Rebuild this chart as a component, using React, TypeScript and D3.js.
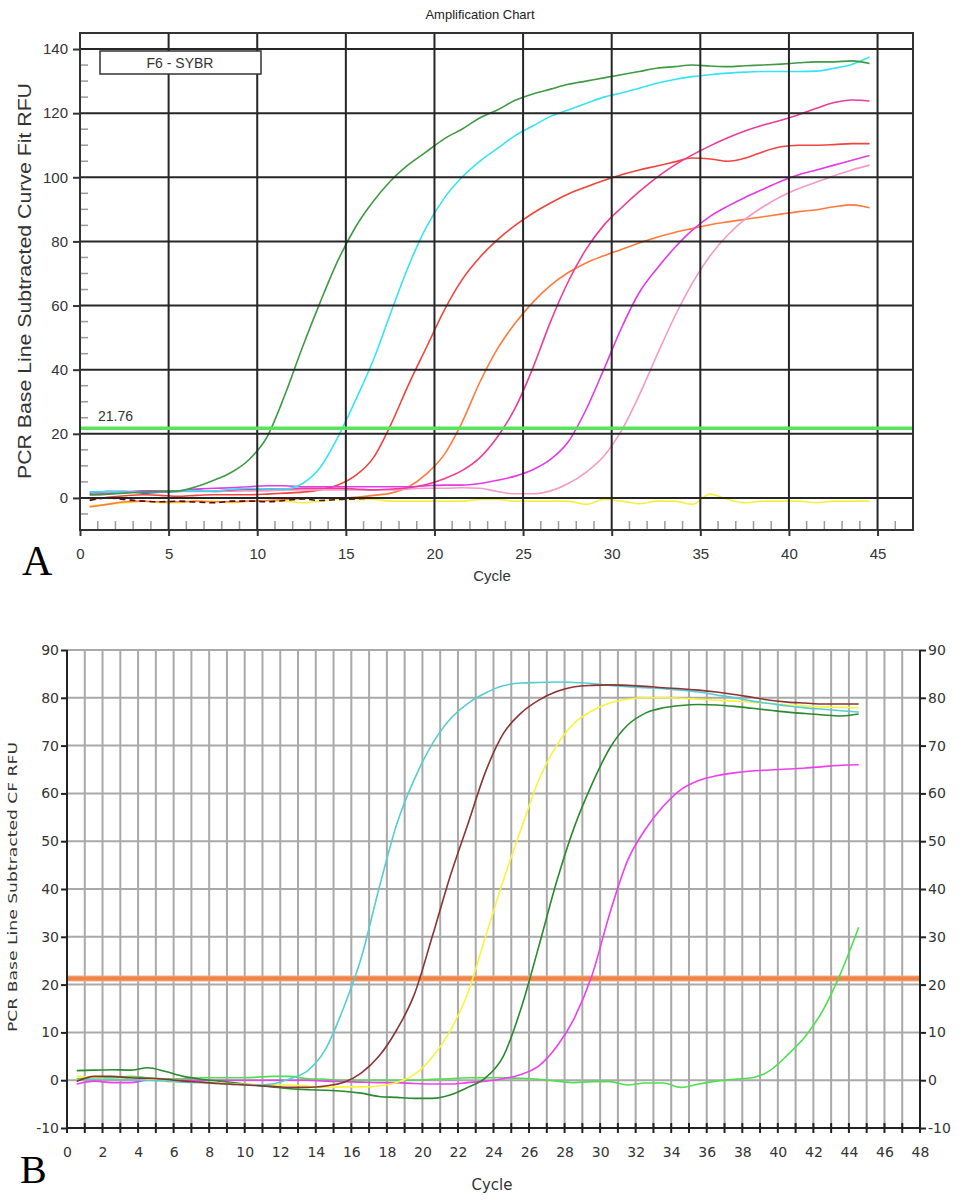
import { useEffect, useRef } from "react"
import * as d3 from "d3"

// cycle numbers (each point is drawn a little before the whole cycle, as the instrument does)
const cycles = [
  1, 2, 3, 4, 5, 6, 7, 8, 9, 10, 11, 12, 13, 14, 15, 16, 17, 18, 19, 20, 21, 22, 23, 24, 25, 26, 27, 28, 29, 30,
  31, 32, 33, 34, 35, 36, 37, 38, 39, 40, 41, 42, 43, 44, 45,
]
const cycleOffset = 0.45

// ---- Panel A: F6 - SYBR, curve fit RFU ----
const greenA = [
  1, 1.2, 1.5, 1.8, 2, 2.2, 3.5, 5.5, 8, 12, 19, 32, 47, 61, 74, 84.5, 92.5, 99, 104, 108, 112, 115, 118.5, 121,
  124, 126, 127.5, 129, 130, 131, 132, 133, 134, 134.5, 135, 134.7, 134.5, 134.8, 135, 135.3, 135.7, 136, 136,
  136.3, 135.5,
]
const cyanA = [
  1.8, 2, 1.8, 1.8, 2, 2.2, 2.2, 2.2, 2.7, 3, 2.8, 2.8, 4.5, 9.5, 19, 30.5, 43, 58, 72.5, 84.5, 93.5, 100, 105,
  109, 113, 116, 119, 121, 123, 125, 126.3, 127.8, 129.3, 130.5, 131.4, 132, 132.5, 132.8, 133, 133, 133, 133.1,
  134, 135.2, 137.5,
]
const redA = [
  -0.5, 0.2, 0.7, 1, 0.8, 0.5, 0.8, 1, 1, 1, 1.2, 1.5, 1.8, 2.5, 4, 7, 12.5, 23, 35.5, 47, 58.5, 68, 75, 80.5, 85,
  88.8, 92, 94.8, 97, 99, 100.8, 102.3, 103.5, 104.8, 106, 105.7, 105, 106, 108, 109.5, 110, 110, 110.2, 110.5,
  110.5,
]
const orangeA = [
  -2.8, -2, -1.2, -1, -1.2, -1.2, -1, -1.2, -1.2, -1, -0.8, -0.5, -0.2, 0, 0, 0.2, 0.8, 1.5, 3.5, 7.5, 13.5, 23.5,
  36, 46.5, 54.5, 61, 66.3, 70.3, 73.3, 75.5, 77.5, 79.5, 81.3, 82.8, 84, 85.2, 86.1, 86.9, 87.7, 88.5, 89.3, 89.9,
  90.8, 91.4, 90.5,
]
const deepPinkA = [
  1, 1.2, 1.8, 2, 2, 2.2, 2.2, 2.2, 2.5, 2.8, 2.8, 2.8, 3, 3, 3, 2.8, 2.5, 2.8, 3.2, 4.2, 6, 8.5, 12.5, 19, 28,
  40.5, 55, 67.5, 77.5, 85, 90.5, 95.5, 100, 103.8, 107, 109.8, 112.3, 114.5, 116.3, 117.8, 119.5, 121.5, 123.3,
  124.1, 123.8,
]
const magentaA = [
  1.8, 2, 2, 2.2, 2.2, 2.2, 2.8, 3, 3.2, 3.5, 3.8, 3.8, 3.5, 3.5, 3.5, 3.5, 3.5, 3.5, 3.5, 3.8, 4, 4, 4.5, 5.5,
  6.8, 8.8, 12, 17.5, 27.5, 40, 53, 64, 71.5, 78, 83.5, 87.8, 91, 93.8, 96.3, 98.8, 100.8, 102.3, 103.8, 105.3,
  106.8,
]
const lightPinkA = [
  1, 1.5, 1.8, 2, 2, 2, 2, 2, 2.2, 2.2, 2.2, 2.5, 2.5, 2.5, 2.5, 2.5, 2.5, 2.5, 2.8, 3, 3, 3.2, 3, 2, 1.3, 1.3,
  2.2, 4.5, 8, 13, 21, 32, 44.5, 56.5, 67, 75.5, 82, 87, 90.8, 94, 96.5, 98.5, 100.5, 102.3, 103.8,
]
const yellowA = [
  -2.5, -2, -1.5, -1, -1.5, -1.5, -1, -1, -1.5, -1, -1, -1, -1.5, -1, -0.5, -0.5, -0.5, -1, -1, -1, -1, -1, -0.5,
  -0.5, -1, -1, -1, -1, -2, -0.5, -1, -1.8, -1, -1, -2, 1.2, -0.5, -1.5, -1, -1, -1, -1.5, -1, -1, -1,
]
const blueA = [1.5, 2, 2, 1.5, 1.8, 2, 2.5, 2, 2.2, 2.5, 2.8, 2.5]
const ntcA = [-0.8, 0, -0.5, -1, -1.2, -1, -1.3, -1.5, -1, -1, -1.2, -0.8, -0.3, -0.8, -0.5, -0.3, 0]
const thresholdA = 21.76
const xTicksA = [0, 5, 10, 15, 20, 25, 30, 35, 40, 45]
const yTicksA = [0, 20, 40, 60, 80, 100, 120, 140]

// ---- Panel B: CF RFU ----
const cyanB = [
  0, 0.2, 0.2, 0.1, 0, -0.2, -0.4, -0.5, -0.7, -0.9, -1, -0.8, 0.3, 2, 6.5, 15, 25.5, 40, 53.5, 63, 70.3, 75.5,
  78.8, 81, 82.5, 83.1, 83.2, 83.3, 83.2, 83, 82.6, 82.3, 82.1, 81.9, 81.6, 81.2, 80.6, 80, 79.3, 78.8, 78.3, 77.9,
  77.6, 77.3, 77,
]
const brownB = [
  -0.2, 0.8, 0.8, 0.5, 0.4, 0.2, -0.2, -0.4, -0.7, -0.9, -1.1, -1.3, -1.5, -1.5, -1.2, -0.5, 1.5, 5, 10.5, 18, 30,
  42.5, 53.5, 64.5, 72.5, 76.8, 79.5, 81.3, 82.3, 82.6, 82.7, 82.6, 82.4, 82.1, 81.9, 81.6, 81.2, 80.7, 80.1, 79.5,
  79.1, 78.9, 78.7, 78.7, 78.7,
]
const yellowB = [
  0.8, 0.5, 0.2, 0.5, 0.2, -0.2, -0.4, -0.5, -0.6, -0.8, -0.9, -1, -1, -1.2, -1.5, -1.4, -1.4, -1.2, -0.5, 1.2, 4.8,
  10.2, 18.2, 30, 41.8, 52.5, 62.8, 70, 74.7, 77.3, 78.9, 79.7, 80, 80, 79.9, 79.7, 79.5, 79.3, 79.1, 78.8, 78.5,
  78.3, 78.1, 78, 77.9,
]
const darkGreenB = [
  2, 2.1, 2.2, 2.1, 2.6, 1.8, 0.8, 0.2, -0.2, -0.6, -1, -1.4, -1.8, -2, -2.1, -2.3, -2.7, -3.4, -3.6, -3.8, -3.8,
  -3.1, -1.5, 0.5, 5, 15, 28, 41.5, 53, 62, 69.5, 74.3, 76.8, 77.9, 78.4, 78.6, 78.5, 78.2, 77.8, 77.4, 77, 76.7,
  76.4, 76.2, 76.6,
]
const magentaB = [
  -0.8, -0.2, -0.5, -0.5, 0, 0, 0, 0, 0, 0, 0, 0, 0, 0, -0.2, -0.3, -0.4, -0.5, -0.5, -0.7, -0.8, -0.8, -0.5, -0.2,
  0.3, 1.2, 3, 7, 13, 22, 35, 46, 52.5, 57.3, 60.8, 62.7, 63.7, 64.3, 64.7, 64.9, 65.1, 65.3, 65.6, 65.9, 66,
]
const lightGreenB = [
  0.3, 0.5, 0.5, 0.8, 0.5, 0.3, 0.3, 0.5, 0.5, 0.5, 0.6, 0.8, 0.8, 0.3, 0.2, 0, 0, 0, 0, 0, 0.2, 0.3, 0.5, 0.5,
  0.5, 0.4, 0.2, -0.2, -0.5, -0.3, -0.3, -1, -0.6, -0.6, -1.5, -0.8, -0.2, 0.2, 0.5, 2, 5.3, 9.2, 14.7, 22.5, 32,
]
const thresholdB = 21.3
const yTicksB = [-10, 0, 10, 20, 30, 40, 50, 60, 70, 80, 90]
const xLabelsB = [0, 2, 4, 6, 8, 10, 12, 14, 16, 18, 20, 22, 24, 26, 28, 30, 32, 34, 36, 38, 40, 42, 44, 46, 48]

type Series = { values: number[]; color: string; dash?: string }

// plain hyphen for negatives, like the instrument software
const plain = (d: any) => String(d)

function drawCurves(g: any, x: any, y: any, list: Series[]) {
  const line = d3
    .line<number>()
    .x((_, i) => x(cycles[i] - cycleOffset))
    .y((d) => y(d))
    .curve(d3.curveMonotoneX)

  list.forEach((s) => {
    g.append("path")
      .attr("d", line(s.values))
      .attr("fill", "none")
      .attr("stroke", s.color)
      .attr("stroke-width", 1.6)
      .attr("stroke-dasharray", s.dash || null)
  })
}

function drawPanelA(svg: any) {
  const g = svg.append("g").attr("font-family", "'Liberation Sans', Arial, sans-serif").attr("fill", "#333")
  const x = d3.scaleLinear().domain([0, 47]).range([80, 913])
  const y = d3.scaleLinear().domain([-10, 145]).range([530, 33])

  g.append("text")
    .attr("x", 480)
    .attr("y", 19)
    .attr("text-anchor", "middle")
    .attr("font-size", 13)
    .attr("fill", "#222")
    .text("Amplification Chart")

  // minor ticks inside the frame
  g.append("g")
    .selectAll("line")
    .data(d3.range(-5, 145, 5).filter((v) => v % 20 !== 0))
    .join("line")
    .attr("x1", 81)
    .attr("x2", 88)
    .attr("y1", (d: number) => y(d))
    .attr("y2", (d: number) => y(d))
    .attr("stroke", "#9a9a9a")
    .attr("stroke-width", 1.5)

  g.append("g")
    .selectAll("line")
    .data(d3.range(1, 47).filter((v) => v % 5 !== 0))
    .join("line")
    .attr("x1", (d: number) => x(d))
    .attr("x2", (d: number) => x(d))
    .attr("y1", 521)
    .attr("y2", 530)
    .attr("stroke", "#9a9a9a")
    .attr("stroke-width", 1.5)

  // curves
  drawCurves(g, x, y, [
    { values: blueA, color: "#3d63f0" },
    { values: yellowA, color: "#f4ef45" },
    { values: orangeA, color: "#ff7a3c" },
    { values: redA, color: "#f0443c" },
    { values: ntcA, color: "#4a1010", dash: "6,4" },
    { values: lightPinkA, color: "#f49ac6" },
    { values: magentaA, color: "#e43ae6" },
    { values: deepPinkA, color: "#ec3c98" },
    { values: cyanA, color: "#35e4f2" },
    { values: greenA, color: "#3f9a44" },
  ])

  // grid
  g.append("g")
    .selectAll("line")
    .data(xTicksA.slice(1))
    .join("line")
    .attr("x1", (d: number) => x(d))
    .attr("x2", (d: number) => x(d))
    .attr("y1", 33)
    .attr("y2", 530)
    .attr("stroke", "#262626")
    .attr("stroke-width", 2)

  g.append("g")
    .selectAll("line")
    .data(yTicksA)
    .join("line")
    .attr("x1", 80)
    .attr("x2", 913)
    .attr("y1", (d: number) => y(d))
    .attr("y2", (d: number) => y(d))
    .attr("stroke", "#262626")
    .attr("stroke-width", 2)

  // threshold
  g.append("line")
    .attr("x1", 80)
    .attr("x2", 913)
    .attr("y1", y(thresholdA))
    .attr("y2", y(thresholdA))
    .attr("stroke", "#58e45a")
    .attr("stroke-width", 3.5)

  g.append("text").attr("x", 98).attr("y", 421).attr("font-size", 14).text(thresholdA.toFixed(2))

  g.append("rect")
    .attr("x", 80)
    .attr("y", 33)
    .attr("width", 833)
    .attr("height", 497)
    .attr("fill", "none")
    .attr("stroke", "#333")
    .attr("stroke-width", 2)

  // legend box
  g.append("rect")
    .attr("x", 100)
    .attr("y", 51)
    .attr("width", 161)
    .attr("height", 23)
    .attr("fill", "#fff")
    .attr("stroke", "#333")
    .attr("stroke-width", 1.5)
  g.append("text")
    .attr("x", 180)
    .attr("y", 68)
    .attr("text-anchor", "middle")
    .attr("font-size", 14)
    .text("F6 - SYBR")

  // axes
  const yAxis = g
    .append("g")
    .attr("transform", "translate(80,0)")
    .call(d3.axisLeft(y).tickValues(yTicksA).tickFormat(plain).tickSize(7).tickPadding(5))
  const xAxis = g
    .append("g")
    .attr("transform", "translate(0,530)")
    .call(d3.axisBottom(x).tickValues(xTicksA).tickFormat(plain).tickSize(6).tickPadding(12))
  ;[yAxis, xAxis].forEach((a) => {
    a.select(".domain").remove()
    a.selectAll("line").attr("stroke", "#333").attr("stroke-width", 2)
    a.selectAll("text").attr("font-size", 15).attr("fill", "#333").attr("font-family", "'Liberation Sans', Arial, sans-serif")
  })

  g.append("text")
    .attr("transform", "translate(31,281) rotate(-90)")
    .attr("text-anchor", "middle")
    .attr("font-size", 18)
    .attr("textLength", 396)
    .attr("lengthAdjust", "spacingAndGlyphs")
    .text("PCR Base Line Subtracted Curve Fit RFU")

  g.append("text").attr("x", 492).attr("y", 581).attr("text-anchor", "middle").attr("font-size", 15).text("Cycle")

  g.append("text")
    .attr("x", 22)
    .attr("y", 575)
    .attr("font-family", "'Liberation Serif', 'Times New Roman', serif")
    .attr("font-size", 42)
    .attr("fill", "#000")
    .text("A")
}

function drawPanelB(svg: any) {
  const font = "'DejaVu Sans', Verdana, sans-serif"
  const g = svg.append("g").attr("font-family", font).attr("fill", "#333")
  const x = d3.scaleLinear().domain([0, 48]).range([67, 920])
  const y = d3.scaleLinear().domain([-10, 90]).range([1128, 650])

  // grid
  g.append("g")
    .selectAll("line")
    .data(d3.range(1, 48))
    .join("line")
    .attr("x1", (d: number) => x(d))
    .attr("x2", (d: number) => x(d))
    .attr("y1", 650)
    .attr("y2", 1128)
    .attr("stroke", "#a9a9a9")
    .attr("stroke-width", 2)

  g.append("g")
    .selectAll("line")
    .data(yTicksB.slice(1))
    .join("line")
    .attr("x1", 67)
    .attr("x2", 920)
    .attr("y1", (d: number) => y(d))
    .attr("y2", (d: number) => y(d))
    .attr("stroke", "#a9a9a9")
    .attr("stroke-width", 2)

  // threshold
  g.append("line")
    .attr("x1", 67)
    .attr("x2", 920)
    .attr("y1", y(thresholdB))
    .attr("y2", y(thresholdB))
    .attr("stroke", "#f3b08a")
    .attr("stroke-width", 6)
  g.append("line")
    .attr("x1", 67)
    .attr("x2", 920)
    .attr("y1", y(thresholdB))
    .attr("y2", y(thresholdB))
    .attr("stroke", "#ee844a")
    .attr("stroke-width", 4)

  drawCurves(g, x, y, [
    { values: lightGreenB, color: "#4fe04f" },
    { values: magentaB, color: "#ee3fee" },
    { values: darkGreenB, color: "#2a8a2e" },
    { values: yellowB, color: "#f8f43c" },
    { values: cyanB, color: "#55cdd5" },
    { values: brownB, color: "#8a3434" },
  ])

  // axis lines
  const axisColor = "#222"
  g.append("line").attr("x1", 67).attr("x2", 67).attr("y1", 650).attr("y2", 1128).attr("stroke", axisColor).attr("stroke-width", 2)
  g.append("line").attr("x1", 920).attr("x2", 920).attr("y1", 650).attr("y2", 1128).attr("stroke", axisColor).attr("stroke-width", 2)
  g.append("line").attr("x1", 67).attr("x2", 920).attr("y1", 1128).attr("y2", 1128).attr("stroke", axisColor).attr("stroke-width", 2)

  // bottom ticks cross the axis
  g.append("g")
    .selectAll("line")
    .data(d3.range(0, 49))
    .join("line")
    .attr("x1", (d: number) => x(d))
    .attr("x2", (d: number) => x(d))
    .attr("y1", 1123)
    .attr("y2", 1133)
    .attr("stroke", axisColor)
    .attr("stroke-width", 2)

  const left = g
    .append("g")
    .attr("transform", "translate(67,0)")
    .call(d3.axisLeft(y).tickValues(yTicksB).tickFormat(plain).tickSize(6).tickPadding(2))
  const right = g
    .append("g")
    .attr("transform", "translate(920,0)")
    .call(d3.axisRight(y).tickValues(yTicksB).tickFormat(plain).tickSize(6).tickPadding(2))
  const bottom = g
    .append("g")
    .attr("transform", "translate(0,1128)")
    .call(d3.axisBottom(x).tickValues(xLabelsB).tickFormat(plain).tickSize(0).tickPadding(19))
  ;[left, right, bottom].forEach((a) => {
    a.select(".domain").remove()
    a.selectAll("line").attr("stroke", axisColor).attr("stroke-width", 2)
    a.selectAll("text").attr("font-size", 14).attr("fill", "#333").attr("font-family", font)
  })

  g.append("text")
    .attr("transform", "translate(17,887) rotate(-90)")
    .attr("text-anchor", "middle")
    .attr("font-size", 13)
    .attr("textLength", 290)
    .attr("lengthAdjust", "spacingAndGlyphs")
    .text("PCR Base Line Subtracted CF RFU")

  g.append("text").attr("x", 492).attr("y", 1190).attr("text-anchor", "middle").attr("font-size", 15).text("Cycle")

  g.append("text")
    .attr("x", 20)
    .attr("y", 1183)
    .attr("font-family", "'Liberation Serif', 'Times New Roman', serif")
    .attr("font-size", 40)
    .attr("fill", "#000")
    .text("B")
}

export default function App() {
  const svgRef = useRef<SVGSVGElement>(null)

  useEffect(() => {
    if (!svgRef.current) return
    const svg = d3.select(svgRef.current)
    svg.selectAll("*").remove()
    drawPanelA(svg)
    drawPanelB(svg)
  }, [])

  return (
    <div style={{ position: "absolute", left: 0, top: 0 }}>
      <svg ref={svgRef} width={964} height={1200} style={{ display: "block", background: "#fff" }} />
    </div>
  )
}
